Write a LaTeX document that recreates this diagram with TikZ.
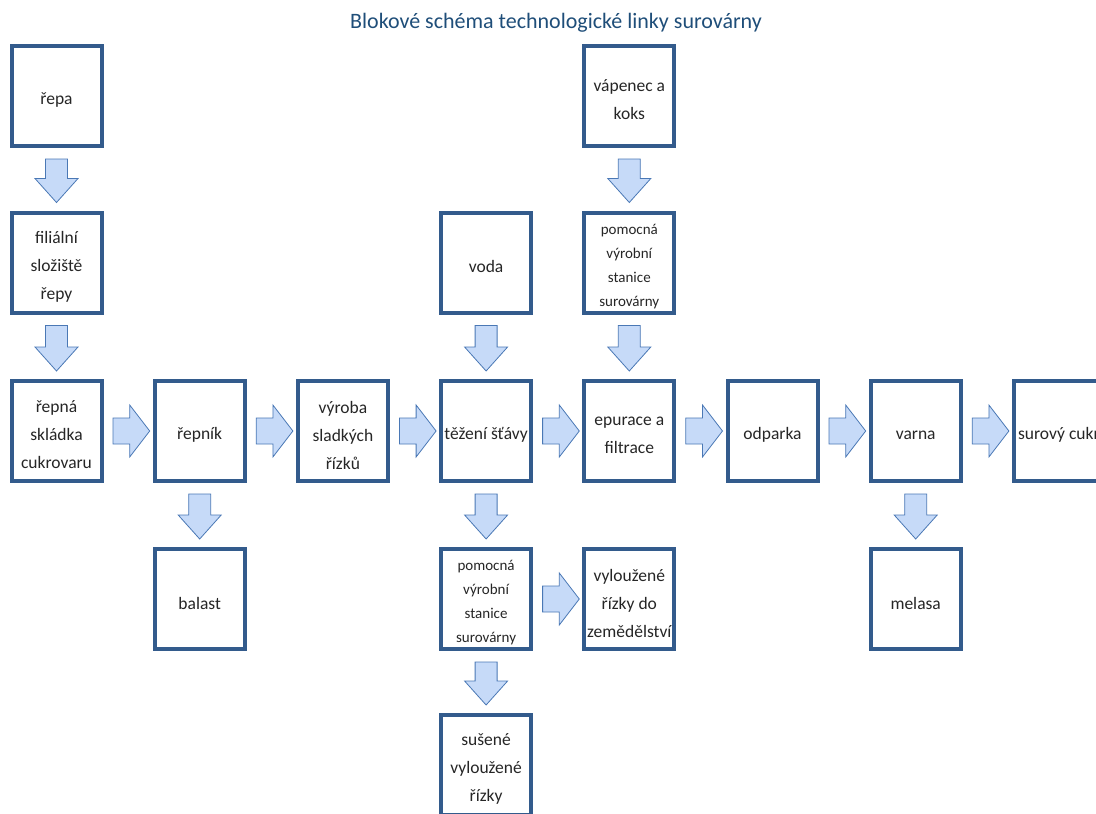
\documentclass[tikz,border=0pt]{standalone}
\usepackage{fontspec}
\setmainfont{Carlito}
\usetikzlibrary{calc}

\definecolor{boxline}{HTML}{335B8C}
\definecolor{arrowfill}{HTML}{C6DAF8}
\definecolor{arrowline}{HTML}{4A78B5}
\definecolor{titleblue}{HTML}{1F4E79}
\definecolor{textgray}{HTML}{262626}

\tikzset{
  box/.style={draw=boxline, line width=4pt, fill=white,
    minimum width=90pt, minimum height=100pt, inner sep=0pt},
  boxtext/.style={inner sep=0pt, align=center, text=textgray,
    font=\fontsize{17.5}{28}\selectfont},
  smalltext/.style={font=\fontsize{15}{24}\selectfont},
  blk/.style={fill=arrowfill, draw=arrowline, line width=0.8pt, line join=miter},
}

% a framed stage: box named #2 at #3, its caption #4 set a little below centre
\newcommand\stage[4][]{%
  \node[box] (#2) at (#3) {};
  \node[boxtext,#1] (#2-text) at ([yshift=-4pt]#2.center) {#4};}

% wide block arrow pointing down, from one stage to the one below it
\newcommand\flowdown[2]{%
  \path[blk] let \p1=(#1.south), \p2=(#2.north) in
    (\x1-11pt,\y1-11pt) -- (\x1+11pt,\y1-11pt) -- (\x1+11pt,\y2+32pt)
    -- (\x1+21.5pt,\y2+32pt) -- (\x1,\y2+8pt) -- (\x1-21.5pt,\y2+32pt)
    -- (\x1-11pt,\y2+32pt) -- cycle;}

% wide block arrow pointing right, from one stage to the next
\newcommand\flowright[2]{%
  \path[blk] let \p1=(#1.east), \p2=(#2.west) in
    (\x1+9.5pt,\y1+13pt) -- (\x2-23pt,\y1+13pt) -- (\x2-23pt,\y1+26pt)
    -- (\x2-3pt,\y1) -- (\x2-23pt,\y1-26pt) -- (\x2-23pt,\y1-13pt)
    -- (\x1+9.5pt,\y1-13pt) -- cycle;}

\begin{document}
\begin{tikzpicture}[x=1pt, y=-1pt]
  \useasboundingbox (0,0) rectangle (1096,814);

  \node[font=\fontsize{22}{26}\selectfont, text=titleblue] (title) at (556,23)
    {Blokové schéma technologické linky surovárny};

  % main line
  \stage{repa}{56.5,96}{řepa}
  \stage{filial}{56.5,262.5}{filiální\\složiště\\řepy}
  \stage{skladka}{56.5,431}{řepná\\skládka\\cukrovaru}
  \stage{repnik}{199.7,431}{řepník}
  \stage{vyroba}{342.9,431}{výroba\\sladkých\\řízků}
  \stage{tezeni}{486.1,431}{těžení šťávy}
  \stage{epurace}{629.3,431}{epurace a\\filtrace}
  \stage{odparka}{772.5,431}{odparka}
  \stage{varna}{915.7,431}{varna}
  \stage{cukr}{1058.9,431}{surový cukr}

  % inputs and by-products
  \stage{balast}{199.7,599}{balast}
  \stage{voda}{486.1,262.5}{voda}
  \stage[smalltext]{pvs2}{486.1,599}{pomocná\\výrobní\\stanice\\surovárny}
  \stage{suseni}{486.1,765}{sušené\\vyloužené\\řízky}
  \stage{vapenec}{629.3,96}{vápenec a\\koks}
  \stage[smalltext]{pvs1}{629.3,262.5}{pomocná\\výrobní\\stanice\\surovárny}
  \stage{vylouz}{629.3,599}{vyloužené\\řízky do\\zemědělství}
  \stage{melasa}{915.7,599}{melasa}

  % vertical flows
  \flowdown{repa}{filial}
  \flowdown{filial}{skladka}
  \flowdown{repnik}{balast}
  \flowdown{voda}{tezeni}
  \flowdown{tezeni}{pvs2}
  \flowdown{pvs2}{suseni}
  \flowdown{vapenec}{pvs1}
  \flowdown{pvs1}{epurace}
  \flowdown{varna}{melasa}

  % horizontal flows
  \flowright{skladka}{repnik}
  \flowright{repnik}{vyroba}
  \flowright{vyroba}{tezeni}
  \flowright{tezeni}{epurace}
  \flowright{epurace}{odparka}
  \flowright{odparka}{varna}
  \flowright{varna}{cukr}
  \flowright{pvs2}{vylouz}
\end{tikzpicture}
\end{document}
